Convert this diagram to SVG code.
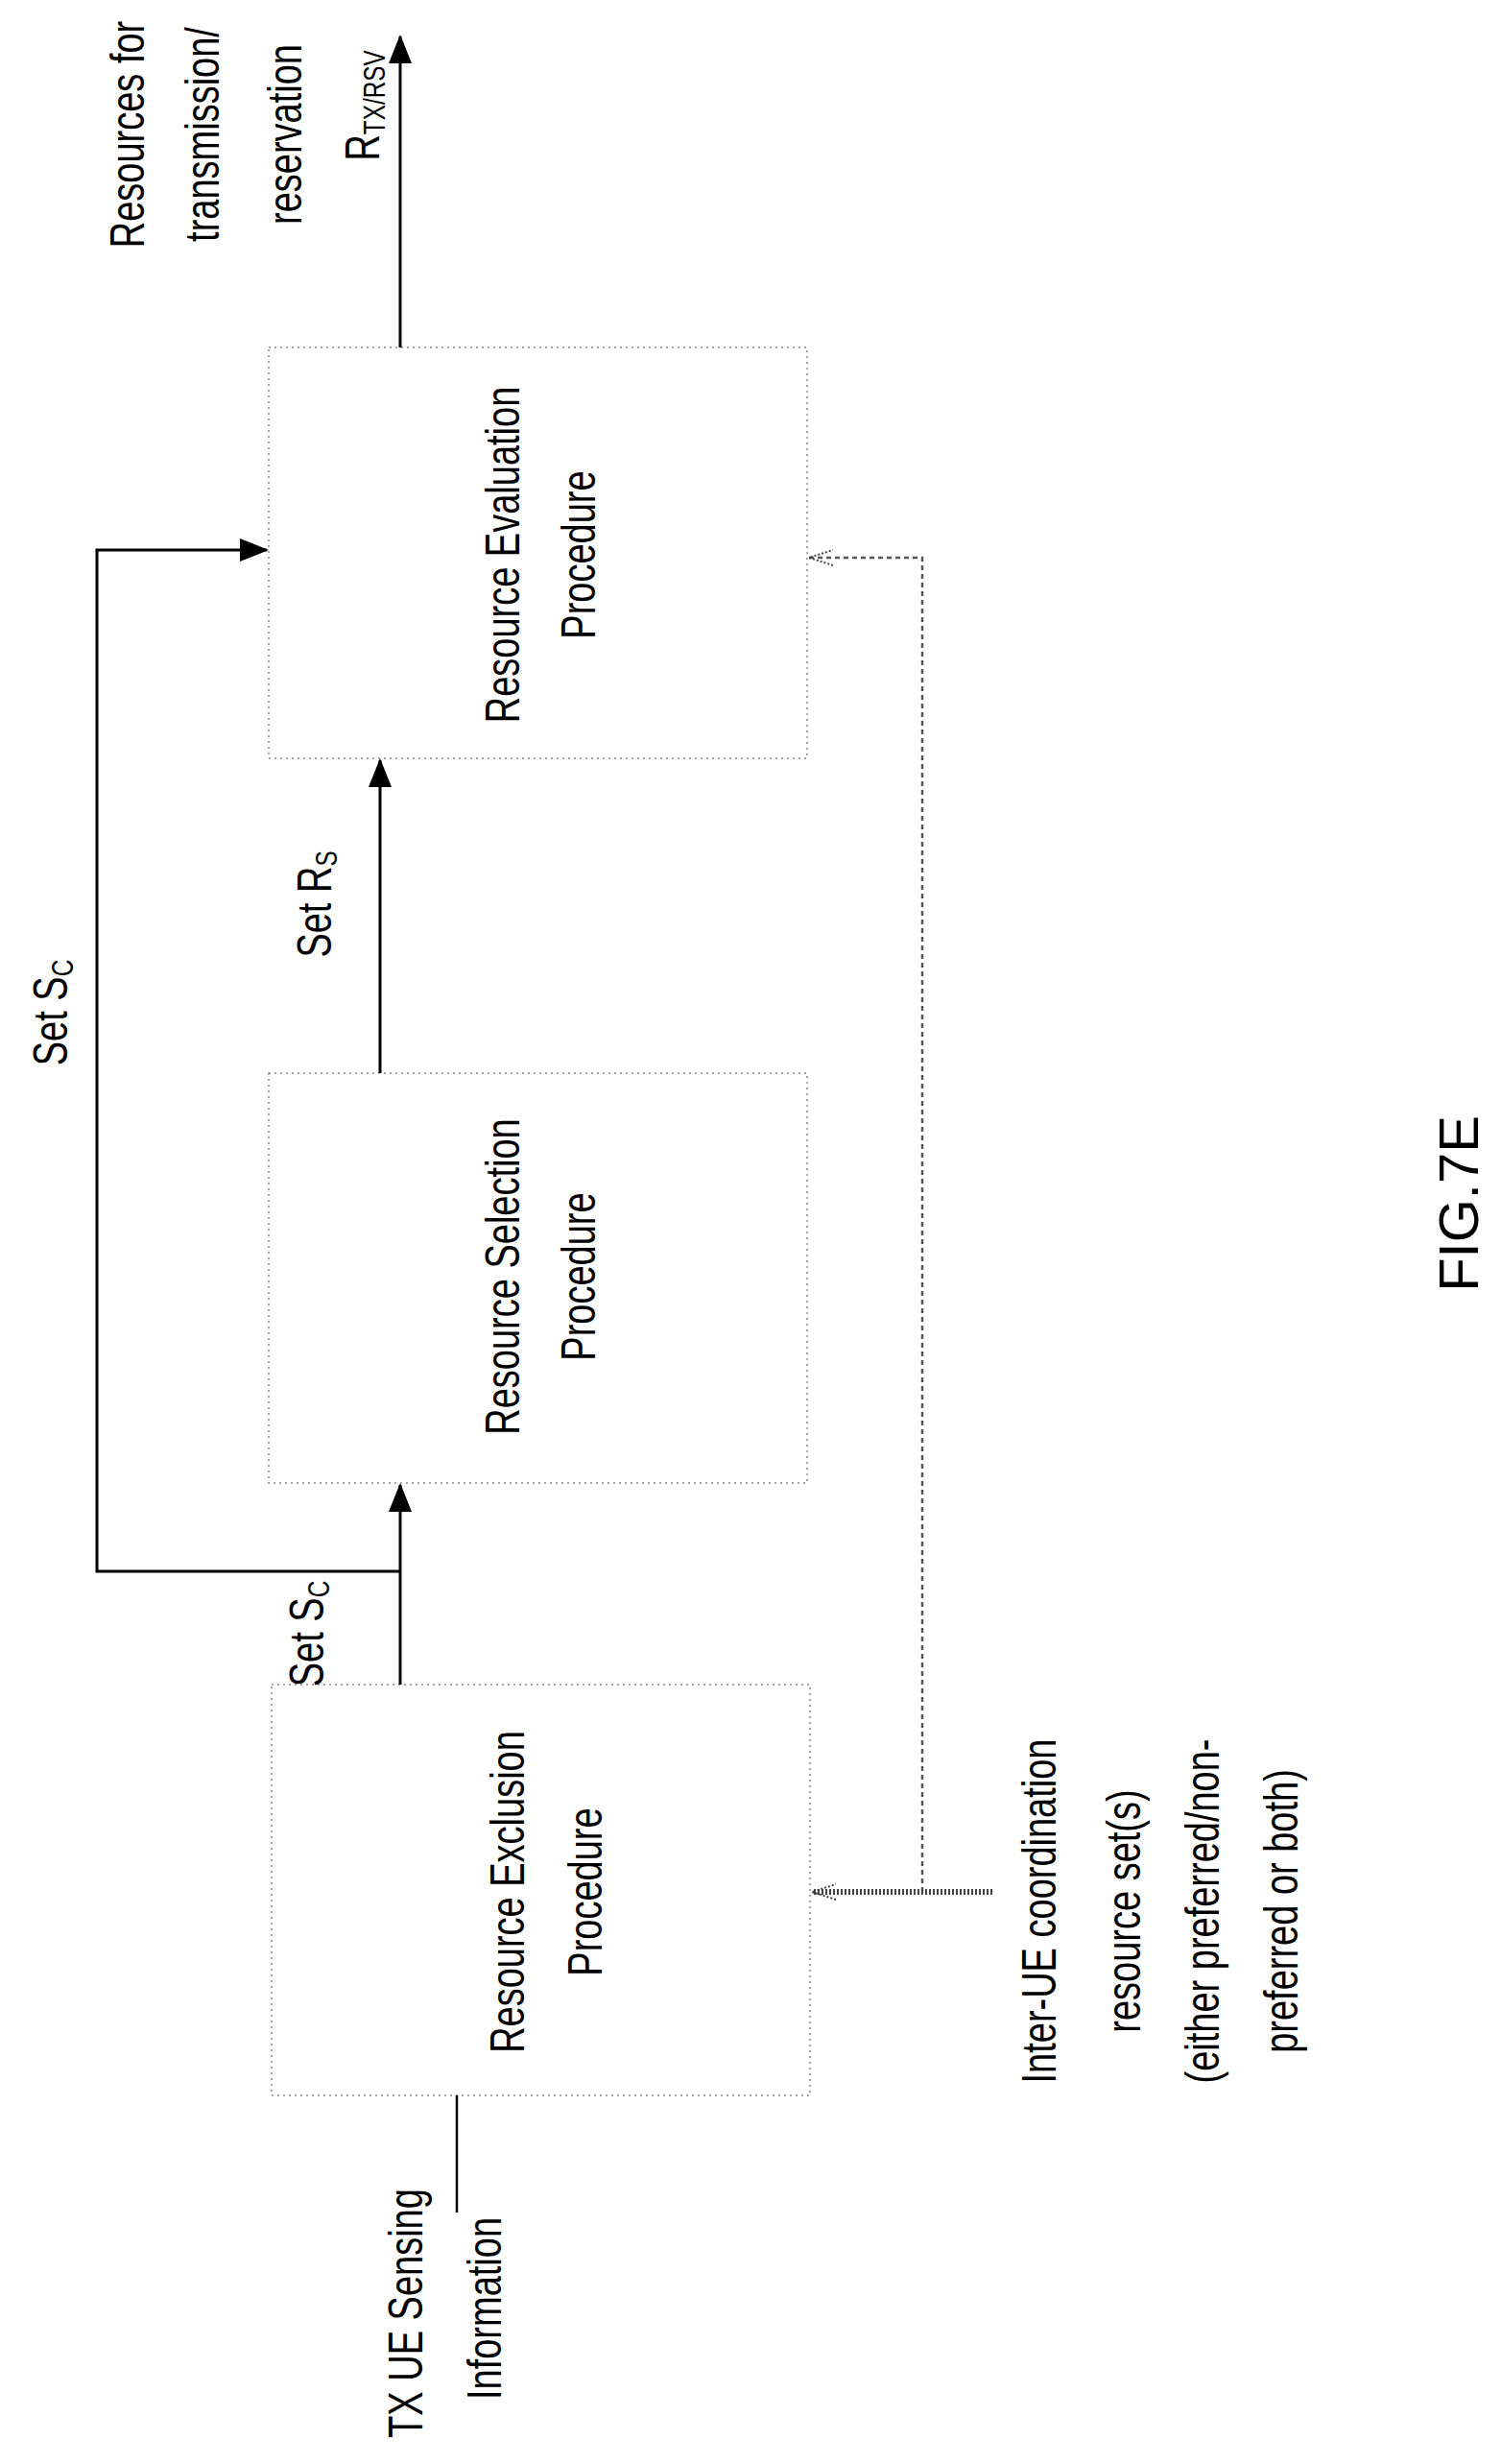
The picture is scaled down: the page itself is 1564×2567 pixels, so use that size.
<svg xmlns="http://www.w3.org/2000/svg" width="1564" height="2567" viewBox="0 0 1564 2567">
<style>
.box{fill:none;stroke:#888;stroke-width:1.5;stroke-dasharray:2,4}
.ln{fill:none;stroke:#000;stroke-width:3}
.dl{fill:none;stroke:#555;stroke-width:2.5;stroke-dasharray:5,4}
text{font-family:"Liberation Sans",Arial,sans-serif;font-size:50px;fill:#000;text-anchor:middle}
.sub{font-size:32px}
</style>
<defs>
<marker id="a2" markerWidth="30" markerHeight="24" refX="28" refY="12" orient="auto" markerUnits="userSpaceOnUse"><path d="M0,0 L30,12 L0,24 z" fill="#000"/></marker>
<marker id="hh" markerWidth="26" markerHeight="20" refX="25" refY="10" orient="auto" markerUnits="userSpaceOnUse"><path d="M0,2 L25,10 L0,18" fill="none" stroke="#444" stroke-width="2" stroke-dasharray="2,2"/></marker>
</defs>
<rect width="1564" height="2567" fill="#fff"/>
<g id="eval"><rect class="box" x="280" y="362" width="561" height="428"/>
<text transform="translate(541,578) rotate(-90) scale(0.76,1)">Resource Evaluation</text>
<text transform="translate(620,578) rotate(-90) scale(0.76,1)">Procedure</text></g>
<g id="select"><rect class="box" x="280" y="1118" width="561" height="427"/>
<text transform="translate(541,1330) rotate(-90) scale(0.76,1)">Resource Selection</text>
<text transform="translate(620,1330) rotate(-90) scale(0.76,1)">Procedure</text></g>
<g id="exclude"><rect class="box" x="283" y="1755" width="561" height="428"/>
<text transform="translate(546,1971) rotate(-90) scale(0.76,1)">Resource Exclusion</text>
<text transform="translate(627,1971) rotate(-90) scale(0.76,1)">Procedure</text></g>
<g id="labels">
<text transform="translate(150,140) rotate(-90) scale(0.76,1)">Resources for</text>
<text transform="translate(228,140) rotate(-90) scale(0.76,1)">transmission/</text>
<text transform="translate(314,140) rotate(-90) scale(0.76,1)">reservation</text>
<text transform="translate(395,110) rotate(-90) scale(0.76,1)">R<tspan class="sub" dy="6">TX/RSV</tspan></text>
<text transform="translate(70,1055) rotate(-90) scale(0.76,1)">Set S<tspan class="sub" dy="6">C</tspan></text>
<text transform="translate(345,942) rotate(-90) scale(0.76,1)">Set R<tspan class="sub" dy="6">S</tspan></text>
<text transform="translate(337,1702) rotate(-90) scale(0.76,1)">Set S<tspan class="sub" dy="6">C</tspan></text>
<text transform="translate(1100,1991) rotate(-90) scale(0.76,1)">Inter-UE coordination</text>
<text transform="translate(1188,1991) rotate(-90) scale(0.76,1)">resource set(s)</text>
<text transform="translate(1270,1991) rotate(-90) scale(0.76,1)">(either preferred/non-</text>
<text transform="translate(1352,1991) rotate(-90) scale(0.76,1)">preferred or both)</text>
<text transform="translate(440,2410) rotate(-90) scale(0.76,1)">TX UE Sensing</text>
<text transform="translate(522,2405) rotate(-90) scale(0.76,1)">Information</text>
<text transform="translate(1540,1254) rotate(-90)" style="font-size:58px">FIG.7E</text>
</g>
<g id="connectors">
<path class="ln" d="M417,362 V38" marker-end="url(#a2)"/>
<path class="ln" d="M396,1118 V792" marker-end="url(#a2)"/>
<path class="ln" d="M417,1755 V1547" marker-end="url(#a2)"/>
<path class="ln" d="M417,1637 H101 V573 H278" marker-end="url(#a2)"/>
<path class="ln" d="M476,2183 V2305" style="stroke-width:2.5"/>
<path class="dl" d="M961,1971 V581 H843" marker-end="url(#hh)"/>
<path d="M1034,1971 H846" fill="none" stroke="#444" stroke-width="6" stroke-dasharray="2,2" marker-end="url(#hh)"/>
</g>
</svg>
